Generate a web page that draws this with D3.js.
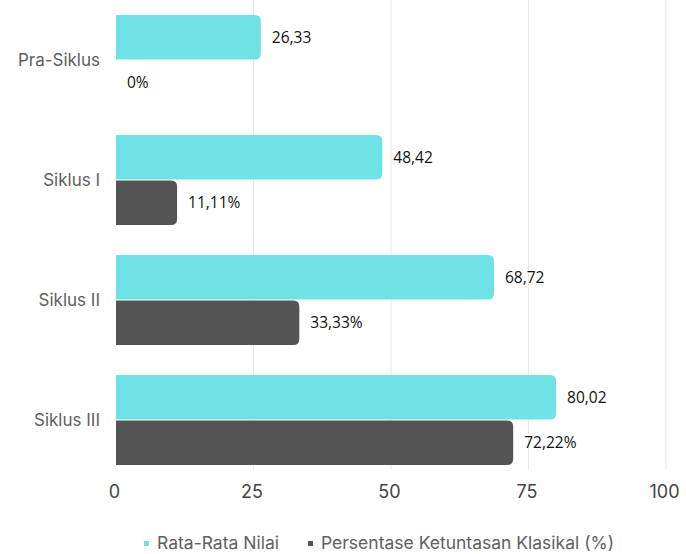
<!DOCTYPE html>
<html><head><meta charset="utf-8">
<script src="https://cdn.jsdelivr.net/npm/d3@7"></script>
<style>body{margin:0;background:#fff}svg{display:block}</style>
</head><body><svg id="c" width="686" height="554"></svg>
<script>
const categories = ["Pra-Siklus", "Siklus I", "Siklus II", "Siklus III"];
const seriesNames = ["Rata-Rata Nilai", "Persentase Ketuntasan Klasikal (%)"];
const rataRata = [26.33, 48.42, 68.72, 80.02];
const persentase = [0, 11.11, 33.33, 72.22];
const rataLabels = ["26,33", "48,42", "68,72", "80,02"];
const persenLabels = ["0%", "11,11%", "33,33%", "72,22%"];
const xTicks = [0, 25, 50, 75, 100];
const colors = ["#6ee2e5", "#545454"];

const svg = d3.select("#c");
const x = d3.scaleLinear().domain([0, 100]).range([116, 666]);
const y = d3.scaleBand().domain(categories).range([0, 480]).paddingInner(0.25).paddingOuter(0.125);
const sub = d3.scaleBand().domain(seriesNames).range([0, y.bandwidth()]).paddingInner(0.02);

// gridlines
svg.append("g").selectAll("line").data(xTicks.slice(1)).join("line")
  .attr("x1", d => x(d)).attr("x2", d => x(d)).attr("y1", 0).attr("y2", 470)
  .attr("stroke", "#e8e8e8").attr("stroke-width", 1);

const series = [
  {name: seriesNames[0], values: rataRata, labels: rataLabels, color: colors[0]},
  {name: seriesNames[1], values: persentase, labels: persenLabels, color: colors[1]}
];

function barPath(x0, x1, y0, h, r) {
  const w = x1 - x0;
  if (w <= 0) return "";
  r = Math.min(r, w, h / 2);
  return `M${x0},${y0}H${x1 - r}Q${x1},${y0} ${x1},${y0 + r}V${y0 + h - r}Q${x1},${y0 + h} ${x1 - r},${y0 + h}H${x0}Z`;
}

series.forEach(s => {
  const g = svg.append("g");
  g.selectAll("path").data(categories).join("path")
    .attr("d", (c, i) => barPath(x(0), x(s.values[i]), y(c) + sub(s.name), sub.bandwidth(), 6))
    .attr("fill", s.color);
  g.selectAll("text").data(categories).join("text")
    .attr("x", (c, i) => x(s.values[i]) + 11)
    .attr("y", (c, i) => y(c) + sub(s.name) + sub.bandwidth() / 2)
    .attr("dy", "0.35em")
    .attr("font-family", "Open Sans, sans-serif").attr("font-size", 15.5).attr("fill", "#111")
    .text((c, i) => s.labels[i]);
});

// category labels
svg.append("g").selectAll("text").data(categories).join("text")
  .attr("x", 100).attr("y", c => y(c) + y.bandwidth() / 2).attr("dy", "0.35em")
  .attr("text-anchor", "end").attr("font-family", "Inter, sans-serif").attr("font-size", 17)
  .attr("fill", "#606060").text(c => c);

// x tick labels
const xAxis = d3.axisBottom(x).tickValues(xTicks).tickSize(0).tickPadding(0);
const ax = svg.append("g").attr("transform", "translate(-2,485)").call(xAxis);
ax.select(".domain").remove();
ax.selectAll("text").attr("font-family", "Inter, sans-serif").attr("font-size", 18).attr("fill", "#444");

// legend
const legend = svg.append("g");
const legItems = [{name: seriesNames[0], color: colors[0], x: 144}, {name: seriesNames[1], color: colors[1], x: 308}];
legItems.forEach(it => {
  legend.append("rect").attr("x", it.x).attr("y", 541).attr("width", 5).attr("height", 5).attr("fill", it.color);
  legend.append("text").attr("x", it.x + 13).attr("y", 549)
    .attr("font-family", "Inter, sans-serif").attr("font-size", 17.5).attr("fill", "#606060").text(it.name);
});
</script></body></html>
